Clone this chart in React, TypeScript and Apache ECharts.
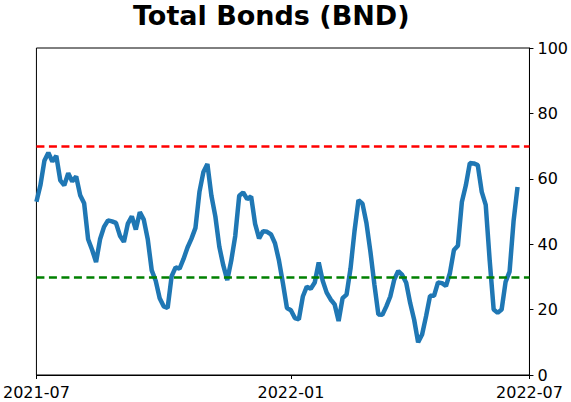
import React, { useEffect, useRef } from "react";
import * as echarts from "echarts";

// Reading of the BND indicator, sampled along the time axis (Jul 2021 - Jul 2022)
const seriesValues: number[] = [
  53, 58, 65.5, 68, 65.3, 67, 59.5, 58, 61.7, 59.2,
  60.7, 55, 52.5, 41.5, 38.3, 34.5, 41.5, 45.3, 47.3, 47,
  46.5, 42.6, 40.7, 46.3, 48.5, 44.5, 49.8, 47.5, 41.5, 32,
  28.8, 23.5, 21, 20.5, 30.2, 32.9, 32.5, 35.5, 39, 41.7,
  45, 56, 62.1, 64.5, 54.9, 48.5, 39.2, 33.5, 29, 35,
  42.5, 54.8, 55.8, 53.8, 54.6, 46.2, 41.8, 44, 43.8, 43,
  40.3, 35, 28, 20.5, 19.8, 17.4, 17, 24, 27, 26.4,
  28.3, 34.4, 28.8, 25.2, 23.1, 21.6, 16.5, 23.5, 24.6, 32.6,
  44, 53.5, 52.4, 46.5, 37.7, 27.7, 18.5, 18.4, 21, 24,
  29.2, 31.8, 30.6, 28.2, 22, 16.9, 10, 12.4, 18, 24.2,
  24.2, 28.3, 28.1, 27.2, 31.2, 38.2, 39.5, 52.9, 58, 64.8,
  64.7, 64.2, 56, 52, 35, 20, 19, 20, 28.5, 31.6,
  47, 57.5,
];

const categoryCount = 125;
const categories: string[] = Array.from({ length: categoryCount }, (_, i) => String(i));
const tickLabels: Record<number, string> = { 0: "2021-07", 64: "2022-01", 124: "2022-07" };

const upperLevel = 70;
const lowerLevel = 30;
const yTicks = { min: 0, max: 100, interval: 20 };

export default function App() {
  const ref = useRef<HTMLDivElement>(null);
  useEffect(() => {
    if (!ref.current) return;
    const chart = echarts.init(ref.current, undefined, { renderer: "svg" });
    const font = "DejaVu Sans";
    chart.setOption({
      animation: false,
      title: {
        text: "Total Bonds (BND)",
        left: 133,
        top: 2,
        padding: 0,
        textStyle: { fontSize: 27, fontWeight: "bold", fontFamily: font, color: "#000" },
      },
      grid: {
        left: 36,
        right: 39,
        top: 48,
        bottom: 27,
        show: true,
        borderColor: "#000",
        borderWidth: 1,
        backgroundColor: "transparent",
      },
      xAxis: {
        type: "category",
        data: categories,
        boundaryGap: false,
        axisLine: { show: true, lineStyle: { color: "#000", width: 1 } },
        axisTick: {
          show: true,
          length: 4,
          interval: (index: number) => tickLabels[index] !== undefined,
          lineStyle: { color: "#000" },
        },
        axisLabel: {
          interval: (index: number) => tickLabels[index] !== undefined,
          formatter: (value: string) => tickLabels[Number(value)] ?? "",
          fontSize: 16,
          fontFamily: font,
          color: "#000",
          margin: 9,
          showMinLabel: true,
          showMaxLabel: true,
        },
        splitLine: { show: false },
      },
      yAxis: {
        type: "value",
        position: "right",
        min: yTicks.min,
        max: yTicks.max,
        interval: yTicks.interval,
        axisLine: { show: true, lineStyle: { color: "#000", width: 1 } },
        axisTick: { show: true, length: 4, lineStyle: { color: "#000" } },
        axisLabel: { fontSize: 16, fontFamily: font, color: "#000", margin: 8 },
        splitLine: { show: false },
      },
      series: [
        {
          type: "line",
          data: seriesValues,
          showSymbol: false,
          symbol: "none",
          lineStyle: { color: "#1f77b4", width: 4.5 },
          z: 2,
          markLine: {
            silent: true,
            symbol: "none",
            label: { show: false },
            z: 5,
            data: [
              { yAxis: upperLevel, lineStyle: { color: "#ff0000", width: 2.5, type: [8, 4.5] } },
              { yAxis: lowerLevel, lineStyle: { color: "#008000", width: 2.5, type: [8, 4.5] } },
            ],
          },
        },
      ],
    });
    return () => chart.dispose();
  }, []);
  return (
    <div
      ref={ref}
      style={{ position: "fixed", left: 0, top: 0, width: 571, height: 402, background: "#fff" }}
    />
  );
}
